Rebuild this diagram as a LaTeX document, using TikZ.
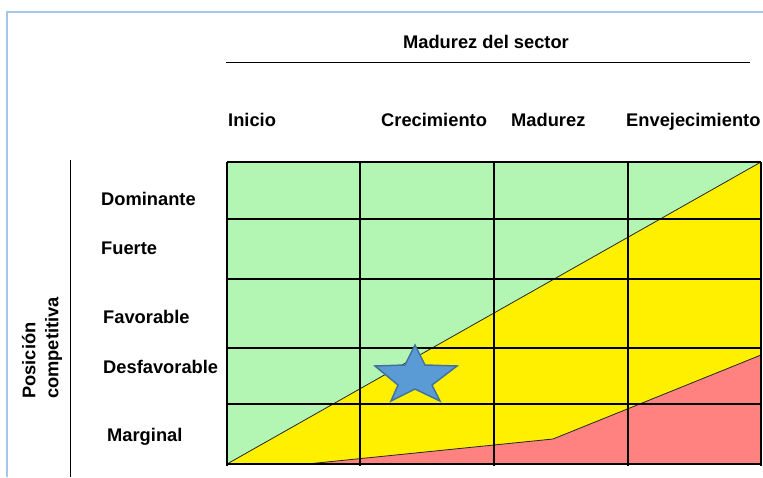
\documentclass[tikz,border=0pt]{standalone}
\usepackage{fontspec}
\setmainfont{Liberation Sans}
\definecolor{verde}{RGB}{179,245,179}
\definecolor{amarillo}{RGB}{255,240,0}
\definecolor{rojo}{RGB}{255,130,128}
\definecolor{azul}{RGB}{91,155,213}
\definecolor{azulborde}{RGB}{65,113,156}
\definecolor{marco}{RGB}{165,198,236}

\begin{document}
\begin{tikzpicture}[x=1pt,y=-1pt,
    every node/.style={font=\fontsize{18.3}{23}\selectfont\bfseries,inner sep=0pt},
    rejilla/.style={line width=2pt},
    frontera/.style={line width=0.8pt,black!85}]

      \useasboundingbox (0,0) rectangle (763,477);

      % marco
      \draw[marco,line width=2pt] (7,477) -- (7,12) -- (763,12);

      % zonas
      \fill[verde] (227,162) rectangle (761,464);
      \fill[amarillo] (227,464) -- (761,162) -- (761,464) -- cycle;
      \fill[rojo] (307,464) -- (553,439) -- (761,355) -- (761,464) -- cycle;
      \draw[frontera] (227,464) -- (761,162);
      \draw[frontera] (307,464) -- (553,439) -- (761,355);

      % rejilla
      \foreach \x in {227,360,494,628,761}
        \draw[rejilla] (\x,162) -- (\x,466);
      \foreach \y in {162,219,279,348,404,464}
        \draw[rejilla] (227,\y) -- (761,\y);

      % estrella
      \draw[azulborde,fill=azul,line width=1.5pt,line join=miter]
        (415,345) -- (425,365) -- (457,366) -- (432,385) -- (440,401) --
        (415,389) -- (391,401) -- (398,385) -- (375,366) -- (405,365) -- cycle;

      % ejes
      \node[anchor=base] (sector) at (486,48.5) {Madurez del sector};
      \draw[line width=1pt] (226,62) -- (750,62);
      \draw[line width=1pt] (70,160) -- (70,477);
      \node[rotate=90,align=left,anchor=west] (posicion) at (42,399)
        {Posición\\competitiva};

      \begin{scope}[every node/.append style={anchor=base west}]
        \node (inicio)   at (228,126.5) {Inicio};
        \node (crec)     at (381,126.5) {Crecimiento};
        \node (madurez)  at (511,126.5) {Madurez};
        \node (envej)    at (626,126.5) {Envejecimiento};
      \end{scope}

      \begin{scope}[every node/.append style={anchor=base west}]
        \node (dominante) at (101,205.5) {Dominante};
        \node (fuerte)    at (101,254.5) {Fuerte};
        \node (favorable) at (103,323.5) {Favorable};
        \node (desfav)    at (103,373.5) {Desfavorable};
        \node (marginal)  at (107,441.5) {Marginal};
      \end{scope}

    \end{tikzpicture}
\end{document}
